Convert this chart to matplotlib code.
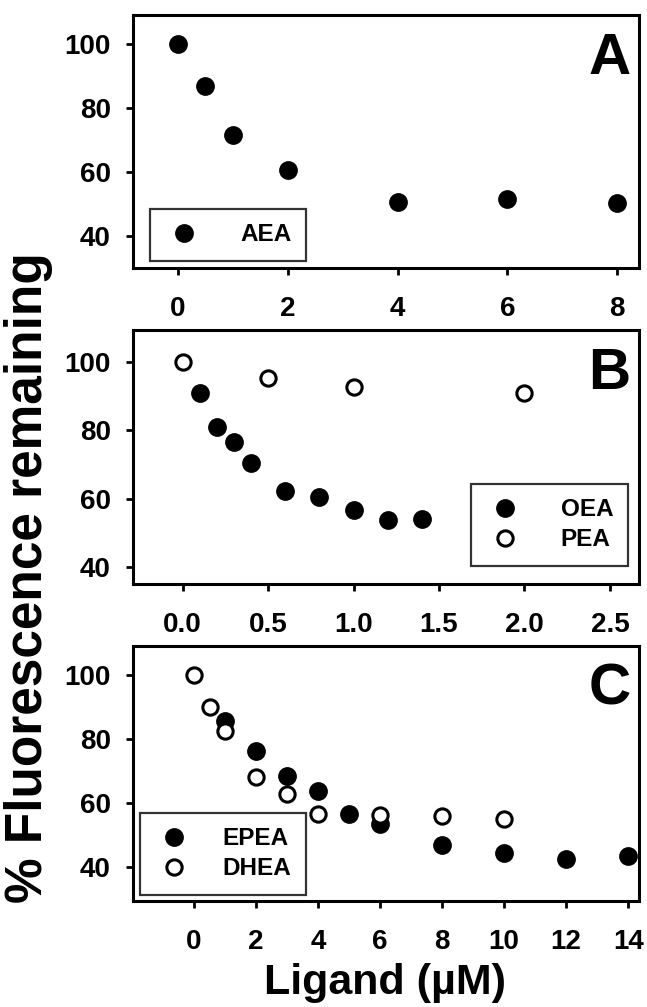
import matplotlib
matplotlib.use("Agg")
import matplotlib.pyplot as plt

# ---- data ----
aea_x = [0, 0.5, 1, 2, 4, 6, 8]
aea_y = [100, 86.9, 71.6, 60.5, 50.6, 51.4, 50.4]

oea_x = [0.1, 0.2, 0.3, 0.4, 0.6, 0.8, 1.0, 1.2, 1.4]
oea_y = [90.8, 81.0, 76.6, 70.3, 62.3, 60.4, 56.6, 53.7, 54.1]
pea_x = [0, 0.5, 1.0, 2.0]
pea_y = [100, 95.3, 92.7, 91.0]

epea_x = [1, 2, 3, 4, 5, 6, 8, 10, 12, 14]
epea_y = [85.6, 76.3, 68.5, 63.9, 56.7, 53.4, 46.9, 44.6, 42.6, 43.5]
dhea_x = [0, 0.5, 1, 2, 3, 4, 6, 8, 10]
dhea_y = [100, 90.1, 82.5, 68.3, 62.9, 56.6, 56.2, 55.9, 55.1]

yticks = [40, 60, 80, 100]
xticks_a = [0, 2, 4, 6, 8]
xticks_b = [0.0, 0.5, 1.0, 1.5, 2.0, 2.5]
xticks_c = [0, 2, 4, 6, 8, 10, 12, 14]

font = 'Liberation Sans'

W, H = 647, 1007
fig = plt.figure(figsize=(W / 100, H / 100), dpi=100)

def pos(top, bottom, left=133, right=639):
    return [left / W, 1 - bottom / H, (right - left) / W, (bottom - top) / H]

axA = fig.add_axes(pos(15, 268))
axB = fig.add_axes(pos(330, 584))
axC = fig.add_axes(pos(646, 901))

filled = dict(marker='o', ms=12.5, mfc='black', mec='black', ls='none')
opened = dict(marker='o', ms=11, mfc='white', mec='black', mew=2.2, ls='none')

axA.plot(aea_x, aea_y, label='AEA', **filled)
axB.plot(oea_x, oea_y, label='OEA', **filled)
axB.plot(pea_x, pea_y, label='PEA', **opened)
axC.plot(epea_x, epea_y, label='EPEA', **filled)
axC.plot(dhea_x, dhea_y, label='DHEA', **opened)

axA.set_xlim(-0.82, 8.4); axA.set_ylim(30, 109)
axB.set_xlim(-0.29, 2.67); axB.set_ylim(35, 109.3)
axC.set_xlim(-1.97, 14.35); axC.set_ylim(29.5, 109)

axA.set_xticks(xticks_a); axA.set_xticklabels([str(v) for v in xticks_a])
axB.set_xticks(xticks_b); axB.set_xticklabels([f"{v:.1f}" for v in xticks_b])
axC.set_xticks(xticks_c); axC.set_xticklabels([str(v) for v in xticks_c])

for ax, letter in [(axA, 'A'), (axB, 'B'), (axC, 'C')]:
    ax.set_yticks(yticks)
    for s in ax.spines.values():
        s.set_linewidth(2.2)
    ax.tick_params(axis='both', direction='out', length=5, width=2, labelsize=20)
    ax.tick_params(axis='x', pad=15)
    ax.tick_params(axis='y', pad=11)
    for lab in ax.get_xticklabels() + ax.get_yticklabels():
        lab.set_fontfamily(font)
        lab.set_fontweight('bold')
    ax.annotate(letter, xy=(1, 1), xycoords='axes fraction', xytext=(-6, -12),
                textcoords='offset points', ha='right', va='top',
                fontsize=42, fontweight='bold', family=font)

legprops = dict(family=font, weight='bold', size=17.5)

def leg(ax, loc, bbox, pad=1.5):
    lg = ax.legend(loc=loc, bbox_to_anchor=bbox, prop=legprops, frameon=True,
                   fancybox=False, edgecolor='black', handletextpad=pad,
                   borderpad=0.6, labelspacing=0.3, handlelength=1.6,
                   borderaxespad=0)
    lg.get_frame().set_linewidth(1.6)
    return lg

leg(axA, 'lower left', ((150 - 133) / 506, (268 - 261) / 253))
leg(axB, 'lower right', ((628 - 133) / 506, (584 - 566) / 254))
leg(axC, 'lower left', ((140 - 133) / 506, (901 - 895) / 255), pad=1.2)

fig.text(29 / W, 1 - 578 / H, '% Fluorescence remaining', rotation=90,
         ha='center', va='center', fontsize=37, fontweight='bold', family=font)
fig.text(385 / W, 1 - 983 / H, 'Ligand (\u00b5M)', ha='center', va='center',
         fontsize=31, fontweight='bold', family=font)

fig.savefig('out.png', dpi=100)
